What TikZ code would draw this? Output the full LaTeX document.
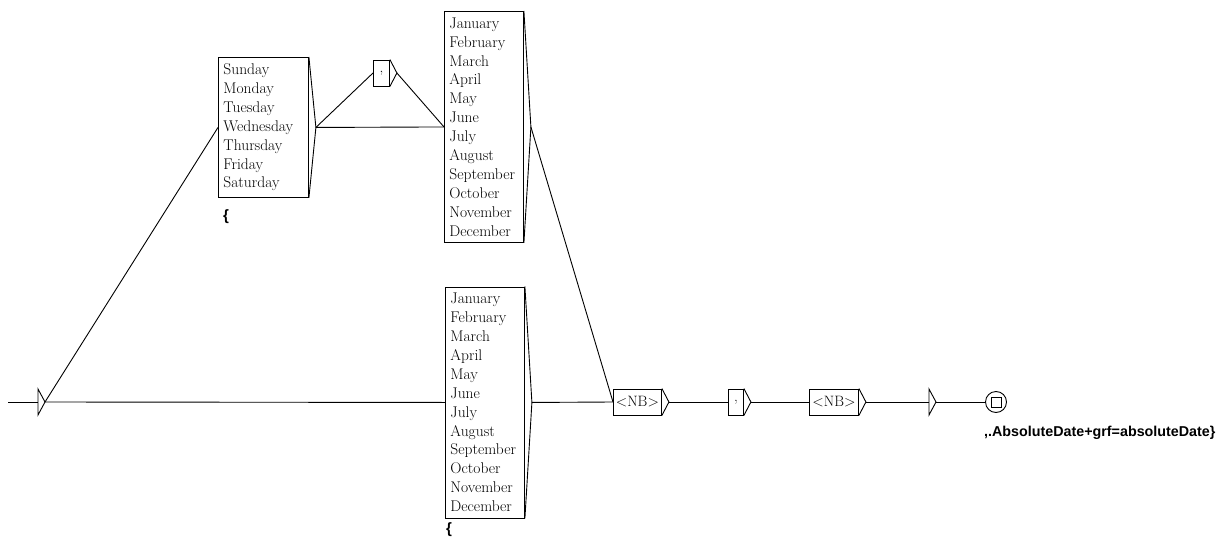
\documentclass[tikz,border=0pt]{standalone}
\usepackage{fontspec}
\newfontfamily\outfont{Liberation Sans}
\usetikzlibrary{calc}
\tikzset{
  lbox/.style={draw, line width=0.9pt, inner xsep=5pt, inner ysep=0pt, anchor=north west, align=left,
    font=\fontsize{15.5}{18.9}\selectfont},
  sbox/.style={draw, line width=0.9pt, inner xsep=0pt, inner ysep=0pt, anchor=west, align=center,
    minimum height=26pt, font=\fontsize{15}{18.9}\selectfont},
  outtxt/.style={anchor=north west, inner sep=0pt, font=\outfont\bfseries\fontsize{14.3}{16}\selectfont},
  brace/.style={anchor=north west, inner sep=0pt, font=\outfont\bfseries\fontsize{15}{16}\selectfont},
  conn/.style={line width=0.9pt}
}
\newcommand\utri[1]{\draw[conn] (#1.north east) -- ($(#1.east)+(7,0)$) coordinate (#1t) -- (#1.south east);}
\begin{document}
\begin{tikzpicture}[x=1pt,y=-1pt]
\useasboundingbox (0,0) rectangle (1227,546);
% initial state
\coordinate (start) at (8,402);
\coordinate (init) at (38,402);
\draw[conn] ($(init)+(0,-13)$) -- ($(init)+(7,0)$) coordinate (initt) -- ($(init)+(0,13)$) -- cycle;
\draw[conn] (start) -- (init);
% day box
\node[lbox, text width=80pt, minimum height=140pt] (sun) at (218,57)
 {Sunday\\Monday\\Tuesday\\Wednesday\\Thursday\\Friday\\Saturday};
\utri{sun}
\node[brace] (br1) at (223,209) {\{};
% comma box
\node[sbox, minimum width=16pt] (c1) at (373,73) {,};
\utri{c1}
% month boxes
\node[lbox, text width=69pt, minimum height=231pt] (m1) at (444,11)
 {January\\February\\March\\April\\May\\June\\July\\August\\September\\October\\November\\December};
\utri{m1}
\node[lbox, text width=69pt, minimum height=231pt] (m2) at (445,286.5)
 {January\\February\\March\\April\\May\\June\\July\\August\\September\\October\\November\\December};
\utri{m2}
\node[brace] (br2) at (446,522) {\{};
% NB , NB
\node[sbox, minimum width=48pt] (nb1) at (613,402) {\textless NB\textgreater};
\utri{nb1}
\node[sbox, minimum width=15pt] (c2) at (728,402) {,};
\utri{c2}
\node[sbox, minimum width=49pt] (nb2) at (809,402) {\textless NB\textgreater};
\utri{nb2}
% empty box
\coordinate (e) at (929,402);
\draw[conn] ($(e)+(0,-13)$) -- ($(e)+(7,0)$) coordinate (et) -- ($(e)+(0,13)$) -- cycle;
% final state
\node[circle, draw, line width=0.9pt, minimum size=21pt, inner sep=0pt] (f) at (996,402) {};
\draw[conn] ($(f)+(-5,-5)$) rectangle ($(f)+(5,5)$);
\node[outtxt] (out) at (984,426) {,.AbsoluteDate+grf=absoluteDate\}};
% connectors
\draw[conn] (initt) -- (sun.west);
\draw[conn] (initt) -- (m2.west);
\draw[conn] (sunt) -- (m1.west);
\draw[conn] (sunt) -- (c1.west);
\draw[conn] (c1t) -- (m1.west);
\draw[conn] (m1t) -- (nb1.west);
\draw[conn] (m2t) -- (nb1.west);
\draw[conn] (nb1t) -- (c2.west);
\draw[conn] (c2t) -- (nb2.west);
\draw[conn] (nb2t) -- (e);
\draw[conn] (et) -- (f.west);
\end{tikzpicture}
\end{document}
